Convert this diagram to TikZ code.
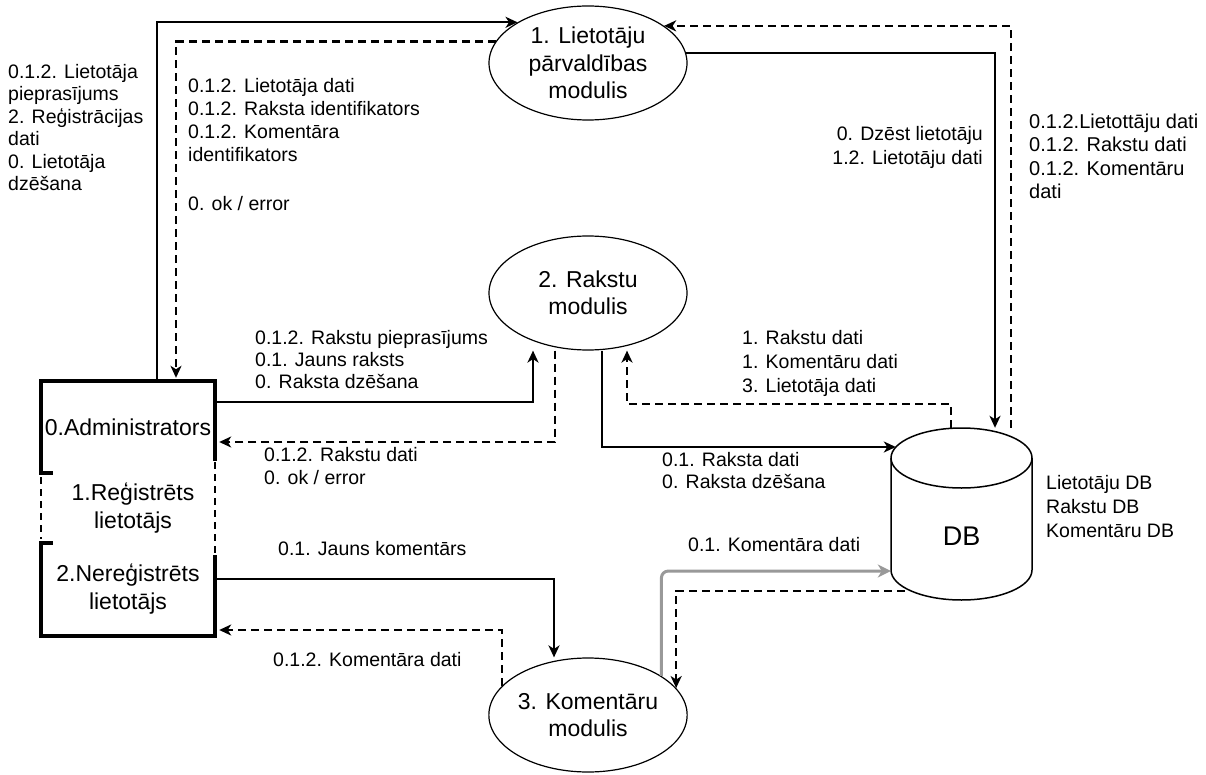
\documentclass[tikz,border=0pt]{standalone}
\usepackage{fontspec}
\setmainfont{Liberation Sans}
\usetikzlibrary{arrows.meta,shapes.geometric}

% font sizes used in the data-flow diagram
\newcommand\lblfont{\fontsize{19.5}{23}\selectfont}
\newcommand\modfont{\fontsize{23}{27.5}\selectfont}
\newcommand\dbfont{\fontsize{27}{32}\selectfont}
\definecolor{linkgray}{HTML}{999999}

\begin{document}
\begin{tikzpicture}[x=1pt,y=-1pt,
  module/.style={ellipse, draw, line width=1.2pt, minimum width=198pt,
    minimum height=114pt, inner sep=0pt, align=center, font=\modfont},
  actor/.style={minimum width=174pt, inner sep=0pt, align=center, font=\modfont},
  frame/.style={line width=4pt, line cap=rect},
  framedash/.style={line width=2pt, dash pattern=on 7pt off 5pt},
  lbl/.style={anchor=north west, align=left, inner sep=0pt, font=\lblfont,
    execute at begin node=\strut},
  lblr/.style={lbl, anchor=north east, align=right},
  flow/.style={line width=2.3pt, -{Stealth[length=12pt,width=11pt,inset=3.5pt]}},
  data/.style={flow, dash pattern=on 8pt off 5pt},
  feed/.style={line width=3pt, draw=linkgray, rounded corners=7pt,
    -{Stealth[length=13pt,width=13pt,inset=4pt]}},
  cyl/.style={line width=1.5pt}
]
\useasboundingbox (0,0) rectangle (1206,775);
\fill[white] (0,0) rectangle (1206,775);

% processes
\node[module] (e1) at (588,63) {1. Lietotāju\\pārvaldības\\modulis};
\node[module] (e2) at (588,293) {2. Rakstu\\modulis};
\node[module] (e3) at (588,715) {3. Komentāru\\modulis};

% data store
\node[minimum width=141pt, minimum height=172pt, inner sep=0pt] (db) at (961.5,514) {};
\draw[cyl] (961.5,458) ellipse [x radius=70.5pt, y radius=30pt];
\draw[cyl] (891,458) -- (891,570) arc[start angle=180, end angle=360,
  x radius=70.5pt, y radius=30pt] -- (1032,458);
\node[font=\dbfont, inner sep=0pt] (dbl) at (961.5,536) {DB};
\node[lbl, font=\fontsize{19.5}{24}\selectfont] (dbn) at (1046,475)
  {Lietotāju DB\\Rakstu DB\\Komentāru DB};

% external entities
\node[actor, minimum height=92pt] (adm0) at (128,427) {0.Administrators};
\node[actor, minimum width=0pt] (adm1) at (133,508) {1.Reģistrēts\\lietotājs};
\node[actor, minimum height=94pt] (adm2) at (128,589) {2.Nereģistrēts\\lietotājs};
\draw[frame] (51,473) -- (41,473) -- (41,381) -- (215,381) -- (215,459);
\draw[frame] (51,543) -- (41,543) -- (41,636) -- (215,636) -- (215,557);
\draw[framedash] (41,477) -- (41,539);
\draw[framedash] (215,462) -- (215,554);

% bend points of the flows
\coordinate (kA) at (157,0);
\coordinate (kB) at (176,0);
\coordinate (kC) at (995,0);
\coordinate (kD) at (1011,0);
\coordinate (kE) at (533,402);
\coordinate (kF) at (555,442);
\coordinate (kG) at (602,447);
\coordinate (kH) at (951,404);
\coordinate (kH2) at (627,404);
\coordinate (kI) at (554,579);
\coordinate (kJ) at (503,630);
\coordinate (kK) at (660,571);
\coordinate (kL) at (675,591);

% flows
\draw[flow] (adm0.north -| kA) |- (e1.150);
\draw[data, shorten >=3pt] (e1.167) -| (adm0.north -| kB);
\draw[flow] (e1.6) -| (db.north -| kC);
\draw[data] (db.north -| kD) |- (e1.26);
\draw[flow] (adm0.east |- kE) -| (e2.south -| kE);
\draw[data, shorten >=4pt] (e2.south -| kF) |- (adm0.east |- kF);
\draw[flow] (e2.south -| kG) |- ([xshift=5pt]db.west |- kG);
\draw[data] (db.north -| kH) -- (kH) -- (kH2) -- (e2.south -| kH2);
\draw[flow] (adm2.east |- kI) -| (e3.north -| kI);
\draw[data, shorten >=4pt] (e3.161) |- (adm2.east |- kJ);
\draw[feed] (e3.28) |- (db.west |- kK);
\draw[data] ([xshift=14pt]db.west |- kL) -| (e3.17);

% flow labels
\node[lbl, font=\fontsize{19.5}{22.5}\selectfont] (tA) at (8,64)
  {0.1.2. Lietotāja\\pieprasījums\\2. Reģistrācijas\\dati\\0. Lietotāja\\dzēšana};
\node[lbl] (tB) at (188,78)
  {0.1.2. Lietotāja dati\\0.1.2. Raksta identifikators\\0.1.2. Komentāra\\identifikators\\[26pt]0. ok / error};
\node[lblr, font=\fontsize{19.5}{24}\selectfont] (tC) at (983,126)
  {0. Dzēst lietotāju\\1.2. Lietotāju dati};
\node[lbl, font=\fontsize{20}{23.3}\selectfont] (tD) at (1029,114)
  {0.1.2.Lietottāju dati\\0.1.2. Rakstu dati\\0.1.2. Komentāru\\dati};
\node[lbl, font=\fontsize{19.5}{22}\selectfont] (tE) at (255,330)
  {0.1.2. Rakstu pieprasījums\\0.1. Jauns raksts\\0. Raksta dzēšana};
\node[lbl] (tF) at (264,447) {0.1.2. Rakstu dati\\0. ok / error};
\node[lbl, font=\fontsize{19.5}{22}\selectfont] (tG) at (662,452)
  {0.1. Raksta dati\\0. Raksta dzēšana};
\node[lbl, font=\fontsize{19.5}{24}\selectfont] (tH) at (742,330)
  {1. Rakstu dati\\1. Komentāru dati\\3. Lietotāja dati};
\node[lbl] (tI) at (278,539) {0.1. Jauns komentārs};
\node[lbl] (tJ) at (273,650) {0.1.2. Komentāra dati};
\node[lbl] (tK) at (688,535) {0.1. Komentāra dati};
\end{tikzpicture}
\end{document}
